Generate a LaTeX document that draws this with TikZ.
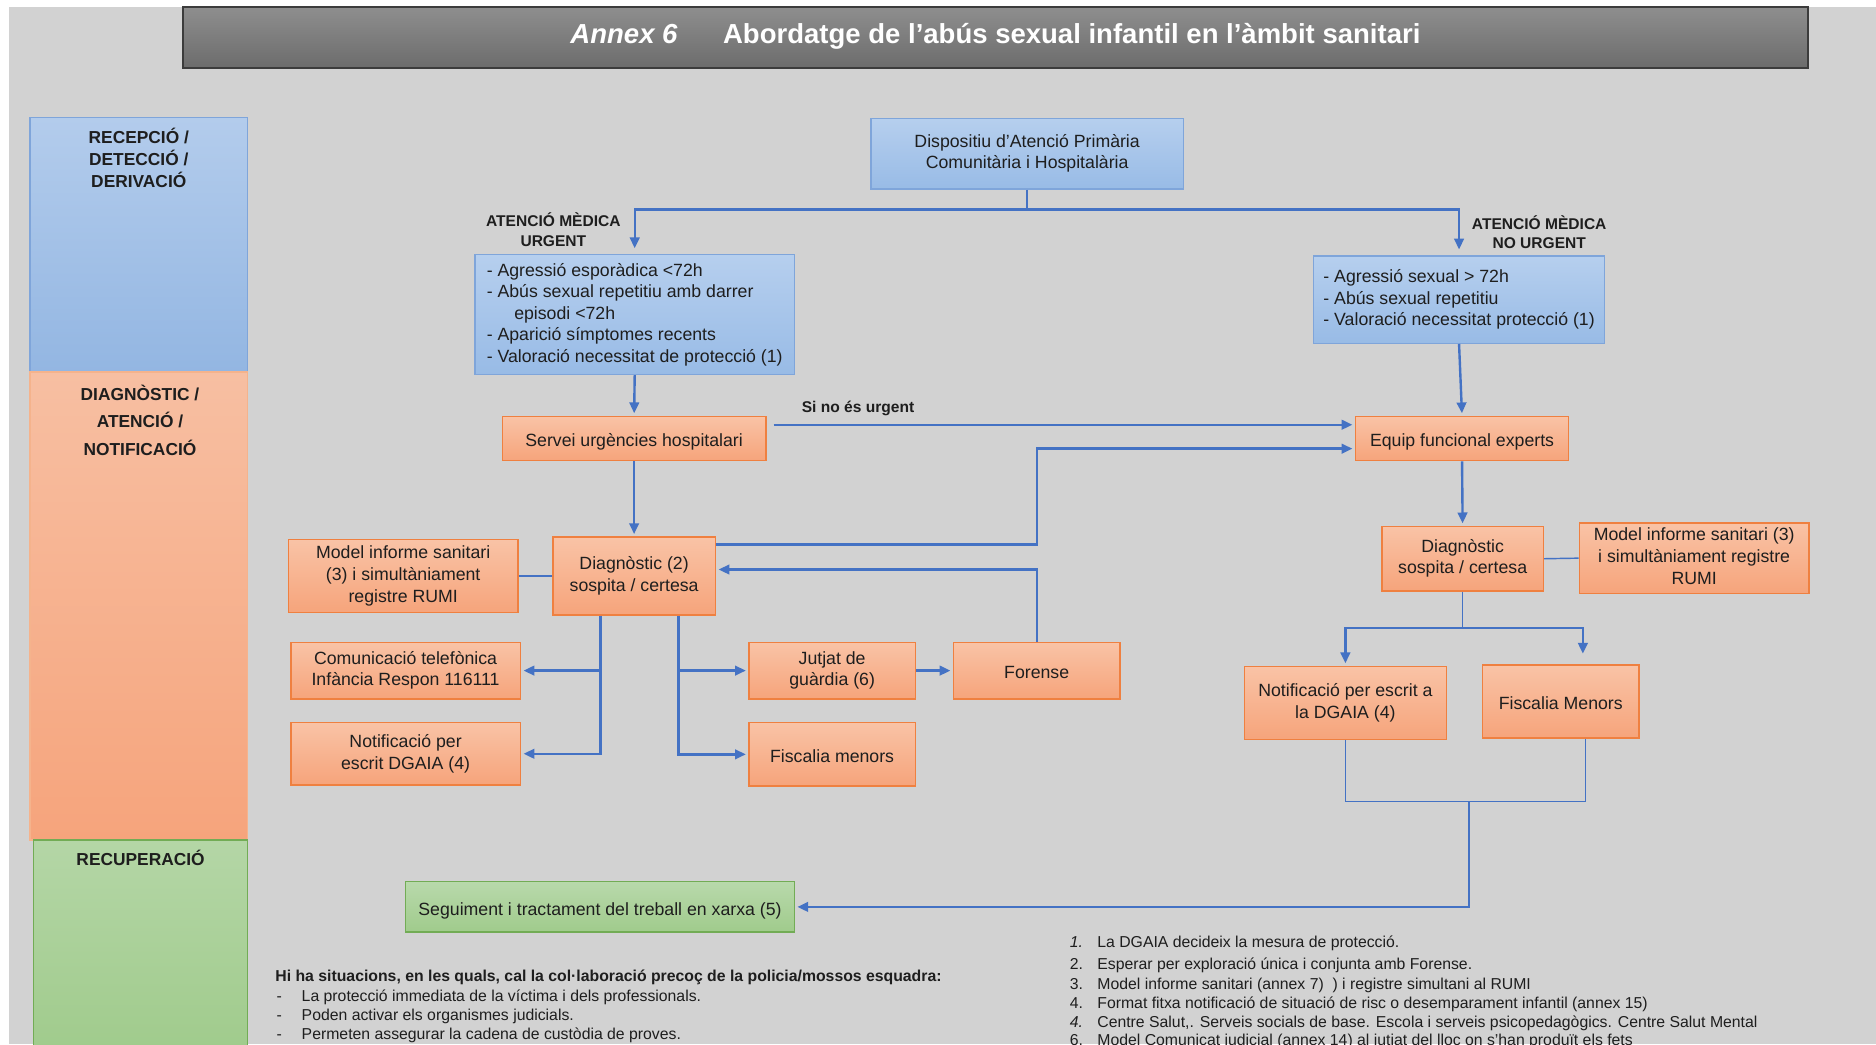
\documentclass[tikz,border=0pt]{standalone}
\usepackage{fontspec}
\setmainfont{Liberation Sans}
\usetikzlibrary{arrows.meta}

\definecolor{bggray}{HTML}{D2D2D2}
\definecolor{txtdark}{HTML}{1E1E1E}
\definecolor{linkblue}{HTML}{4472C4}
\definecolor{blueedge}{HTML}{7FA5DA}
\definecolor{bluetop}{HTML}{B6CFEE}
\definecolor{bluebot}{HTML}{98BBE6}
\definecolor{orangeedge}{HTML}{EF8040}
\definecolor{orangetop}{HTML}{F9C3A6}
\definecolor{orangebot}{HTML}{F6A47B}
\definecolor{greenedge}{HTML}{72AC55}
\definecolor{greentop}{HTML}{B8D9AB}
\definecolor{greenbot}{HTML}{A0CB8C}
\definecolor{lanebluetop}{HTML}{B3CCEC}
\definecolor{lanebluebot}{HTML}{93B6E2}
\definecolor{laneorangetop}{HTML}{F7BFA2}
\definecolor{laneorangebot}{HTML}{F6A47C}
\definecolor{lanegreentop}{HTML}{B4D6A6}
\definecolor{lanegreenbot}{HTML}{A0CB8C}
\definecolor{titletop}{HTML}{8E8E8E}
\definecolor{titlebot}{HTML}{6C6C6C}
\definecolor{titleedge}{HTML}{3C3C3C}

\begin{document}
\begin{tikzpicture}[x=1pt,y=-1pt,>={Triangle[length=9pt,width=8pt]},
    wh/.style 2 args={minimum width=#1pt,minimum height=#2pt},
    plainbox/.style={rectangle,inner sep=0pt,align=center,text=txtdark,
                     font=\fontsize{14.8}{18}\selectfont,
                     execute at begin node={\rule{0pt}{17pt}},
                     execute at end node={\rule[-3.4pt]{0pt}{3.4pt}}},
    bluebox/.style={plainbox,draw=blueedge,line width=1pt,top color=bluetop,bottom color=bluebot},
    orangebox/.style={plainbox,draw=orangeedge,line width=1.3pt,top color=orangetop,bottom color=orangebot},
    greenbox/.style={plainbox,draw=greenedge,line width=1pt,top color=greentop,bottom color=greenbot},
    lanebox/.style={rectangle,inner sep=0pt,line width=1pt},
    lanetxt/.style={align=center,inner sep=0pt,text=txtdark,font=\bfseries\fontsize{14.5}{18}\selectfont},
    tagtxt/.style={align=center,inner sep=0pt,text=txtdark,font=\bfseries\fontsize{13}{16}\selectfont},
    notetxt/.style={anchor=base west,inner sep=0pt,text=txtdark,font=\fontsize{13.2}{16}\selectfont},
    link/.style={draw=linkblue,line width=2pt,->,shorten >=2pt},
    thinlink/.style={draw=linkblue,line width=1.2pt}]

  % page and background
  \useasboundingbox (0,0) rectangle (1568,873);
  \clip (0,0) rectangle (1568,873);
  \fill[white] (0,0) rectangle (1568,873);
  \fill[bggray] (7.5,6) rectangle (1568,873);

  % title
  \node[rectangle,draw=titleedge,line width=1.2pt,top color=titletop,bottom color=titlebot,wh={1358}{51}] (bar) at (832,31.5) {};
  \node[anchor=base,inner sep=0pt,text=white,font=\bfseries\fontsize{23}{27}\selectfont] (ttl) at (832,36)
    {\textit{Annex 6}\hspace{38pt}Abordatge de l’abús sexual infantil en l’àmbit sanitari};

  % lanes
  \node[lanebox,draw=blueedge,top color=lanebluetop,bottom color=lanebluebot,wh={182}{213}] (recep) at (116,204.5) {};
  \node[lanebox,draw=orangeedge!60,top color=laneorangetop,bottom color=laneorangebot,wh={182}{391}] (diagn) at (116,506.5) {};
  \node[lanebox,draw=greenedge,top color=lanegreentop,bottom color=lanegreenbot,wh={179}{178}] (recup) at (117.5,791) {};
  \node[lanetxt] (recept) at (116,132) {RECEPCIÓ /\\DETECCIÓ /\\DERIVACIÓ};
  \node[lanetxt,font=\bfseries\fontsize{14.5}{23}\selectfont] (diagnt) at (117,351) {DIAGNÒSTIC /\\ATENCIÓ /\\NOTIFICACIÓ};
  \node[lanetxt] (recupt) at (117.5,717) {RECUPERACIÓ};

  % boxes
  \node[bluebox,wh={261}{59}] (disp) at (858.5,128.5) {Dispositiu d’Atenció Primària\\Comunitària i Hospitalària};
  \node[bluebox,wh={267}{100},align=left] (urg) at (530.5,263)
    {- Agressió esporàdica <72h\\- Abús sexual repetitiu amb darrer\\\hspace*{23pt}episodi <72h\\- Aparició símptomes recents\\- Valoració necessitat de protecció (1)};
  \node[bluebox,wh={243}{73},align=left] (nurg) at (1219.5,250.5)
    {- Agressió sexual > 72h\\- Abús sexual repetitiu\\- Valoració necessitat protecció (1)};
  \node[orangebox,wh={220}{37}] (serv) at (530,366.5) {Servei urgències hospitalari};
  \node[orangebox,wh={178}{37}] (equip) at (1222,366.5) {Equip funcional experts};
  \node[orangebox,wh={136}{65}] (diagA) at (530,481.5) {Diagnòstic (2)\\sospita / certesa};
  \node[orangebox,wh={192}{61}] (modelA) at (337,481.5) {Model informe sanitari\\(3) i simultàniament\\registre RUMI};
  \node[orangebox,wh={192}{47}] (comun) at (339,560.5) {Comunicació telefònica\\Infància Respon 116111};
  \node[orangebox,wh={192}{52}] (notifA) at (339,630) {Notificació per\\escrit DGAIA (4)};
  \node[orangebox,wh={139}{47}] (jutjat) at (695.5,560.5) {Jutjat de\\guàrdia (6)};
  \node[orangebox,wh={139}{47}] (forense) at (866.5,560.5) {Forense};
  \node[orangebox,wh={139}{53}] (fiscA) at (695.5,630.5) {Fiscalia menors};
  \node[orangebox,wh={135}{54}] (diagB) at (1222.5,467) {Diagnòstic\\sospita / certesa};
  \node[orangebox,wh={192}{59}] (modelB) at (1416,466.5) {Model informe sanitari (3)\\i simultàniament registre\\RUMI};
  \node[orangebox,wh={169}{61}] (notifB) at (1124.5,587.5) {Notificació per escrit a\\la DGAIA (4)};
  \node[orangebox,wh={131}{61}] (fiscB) at (1304.5,586.5) {Fiscalia Menors};
  \node[greenbox,wh={325}{42}] (segui) at (501.5,758) {Seguiment i tractament del treball en xarxa (5)};

  % labels on the arrows
  \node[tagtxt] (urgtag) at (462.5,192) {ATENCIÓ MÈDICA\\URGENT};
  \node[tagtxt] (nurgtag) at (1286.5,194) {ATENCIÓ MÈDICA\\NO URGENT};
  \node[tagtxt,anchor=base west] (sino) at (670,344.5) {Si no és urgent};

  % connectors
  \coordinate (split) at (858.5,175);
  \draw[thinlink] (disp.south) -- (split);
  \draw[link,shorten >=5pt] (split) -| (urg.north);
  \draw[link,shorten >=5pt] (split) -| (nurg.north);
  \draw[link] (urg.south) -- (serv.north);
  \draw[link] (nurg.south) -- (equip.north);
  \draw[link,shorten <=6pt] ([yshift=11.5pt]serv.east) -- ([yshift=11.5pt]equip.west);
  \draw[link] (serv.south) -- (diagA.north);
  \coordinate (turn) at (866.5,375);
  \draw[link] ([yshift=26.5pt]diagA.east) -| (turn) -- ([yshift=-8.5pt]equip.west);
  \draw[link] (forense.north) |- ([yshift=5.5pt]diagA.east);
  \draw[thinlink] (modelA.east) -- (diagA.west);
  \foreach \dst in {comun,notifA}
    \draw[link] ([xshift=-28pt]diagA.south) |- (\dst.east);
  \foreach \dst in {jutjat,fiscA}
    \draw[link] ([xshift=37pt]diagA.south) |- (\dst.west);
  \draw[link] (jutjat.east) -- (forense.west);

  \draw[link] (equip.south) -- (diagB.north);
  \draw[thinlink] (diagB.east) -- (modelB.west);
  \coordinate (splitB) at (1222.5,525);
  \draw[thinlink] (diagB.south) -- (splitB);
  \draw[link] (splitB) -| (notifB.north);
  \draw[link,shorten >=9pt] (splitB) -| ([xshift=18.5pt]fiscB.north);
  \coordinate (mergeB) at (1228,670);
  \draw[thinlink] (notifB.south) |- (mergeB);
  \draw[thinlink] ([xshift=20.5pt]fiscB.south) |- (mergeB);
  \draw[link] (mergeB) |- (segui.east);

  % notes
  \node[notetxt,font=\bfseries\fontsize{13.2}{16}\selectfont] (police) at (230,820.7)
    {Hi ha situacions, en les quals, cal la col·laboració precoç de la policia/mossos esquadra:};
  \foreach \yy/\txt [count=\i] in {836.7/{La protecció immediata de la víctima i dels professionals.},
                                   852.7/{Poden activar els organismes judicials.},
                                   868.7/{Permeten assegurar la cadena de custòdia de proves.}} {
    \node[notetxt] (dash\i) at (231,\yy) {-};
    \node[notetxt] (item\i) at (252,\yy) {\txt};
  }
  \foreach \yy/\num/\txt [count=\i] in {791.7/{\textit{1.}}/{La DGAIA decideix la mesura de protecció.},
                                        810.7/{2.}/{Esperar per exploració única i conjunta amb Forense.},
                                        826.7/{3.}/{Model informe sanitari (annex 7)\ \ ) i registre simultani al RUMI},
                                        842.7/{4.}/{Format fitxa notificació de situació de risc o desemparament infantil (annex 15)},
                                        858.7/{\textit{4.}}/{Centre Salut,. Serveis socials de base. Escola i serveis psicopedagògics. Centre Salut Mental},
                                        873.7/{6.}/{Model Comunicat judicial (annex 14) al jutjat del lloc on s’han produït els fets}} {
    \node[notetxt] (num\i) at (894,\yy) {\num};
    \node[notetxt] (fn\i) at (917,\yy) {\txt};
  }
\end{tikzpicture}
\end{document}
